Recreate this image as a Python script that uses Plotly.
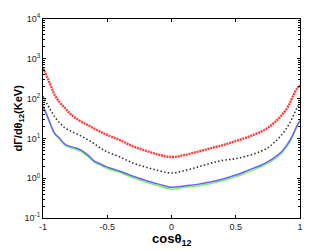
import plotly.graph_objects as go

cos12 = [-1, -0.97, -0.94, -0.91, -0.87, -0.83, -0.79, -0.75, -0.7, -0.65, -0.6, -0.55, -0.5,
         -0.4, -0.3, -0.2, -0.1, 0, 0.1, 0.2, 0.3, 0.4, 0.5, 0.6, 0.7, 0.75, 0.8, 0.85, 0.9,
         0.93, 0.96, 0.98, 1]

red_vals = [580, 360, 210, 125, 80, 58, 42, 33, 26, 21.5, 17.5, 14.5, 12.2,
            9.0, 6.3, 4.9, 3.9, 3.4, 3.8, 4.6, 5.6, 6.8, 8.6, 11, 15, 18.5, 25, 36, 58,
            90, 145, 185, 220]

black_vals = [115, 76, 51, 35, 24.6, 18.5, 15.5, 13.5, 11.3, 9.2, 7.3, 5.6, 4.6,
              3.4, 2.4, 1.9, 1.55, 1.35, 1.55, 1.9, 2.35, 2.8, 3.1, 3.7, 4.8, 5.8, 7.9, 11.5, 19,
              28, 45, 60, 75]

blue_vals = [65, 39, 22, 13.5, 10, 7.2, 6.3, 5.8, 5.0, 3.8, 2.7, 2.25, 1.9,
             1.5, 1.12, 0.88, 0.71, 0.59, 0.64, 0.70, 0.8, 0.95, 1.2, 1.6, 2.15, 2.6, 3.3, 4.4, 7,
             10, 16, 22, 28]

green_vals = [62, 37, 21, 13, 9.5, 6.8, 5.9, 5.4, 4.6, 3.5, 2.5, 2.1, 1.75,
              1.38, 1.02, 0.8, 0.64, 0.53, 0.59, 0.64, 0.73, 0.86, 1.08, 1.45, 1.95, 2.35, 3.0, 4.0, 6.4,
              9.2, 15, 21, 27]

x_ticks = [-1, -0.5, 0, 0.5, 1]
x_ticktext = ["-1", "-0.5", "0", "0.5", "1"]
y_ticks = [0.1, 1, 10, 100, 1000, 10000]
y_ticktext = ["10<sup>-1</sup>", "10<sup>0</sup>", "10<sup>1</sup>", "10<sup>2</sup>",
              "10<sup>3</sup>", "10<sup>4</sup>"]
x_title = "<b>cosθ<sub>12</sub></b>"
y_title = "<b>dΓ/dθ<sub>12</sub>(KeV)</b>"

fig = go.Figure()
fig.add_trace(go.Scatter(x=cos12, y=green_vals, mode="lines",
                         line=dict(color="#7cf06a", width=1.5, shape="spline")))
fig.add_trace(go.Scatter(x=cos12, y=blue_vals, mode="lines",
                         line=dict(color="#6b62f5", width=1.5, shape="spline")))
fig.add_trace(go.Scatter(x=cos12, y=black_vals, mode="lines",
                         line=dict(color="#333333", width=1.6, shape="spline", dash="1.5px,2.2px")))
fig.add_trace(go.Scatter(x=cos12, y=red_vals, mode="lines",
                         line=dict(color="#ff3c3c", width=2.4, shape="spline", dash="2px,0.8px")))

axis_common = dict(showline=True, linecolor="black", linewidth=1, mirror="allticks",
                   ticks="inside", ticklen=3, tickcolor="black", showgrid=False, zeroline=False,
                   automargin=False,
                   tickfont=dict(family="Liberation Sans, Arial", size=9, color="#222"))

fig.update_xaxes(range=[-1, 1], tickmode="array", tickvals=x_ticks, ticktext=x_ticktext,
                 **axis_common)
fig.update_yaxes(type="log", range=[-1, 4], tickmode="array", tickvals=y_ticks, ticktext=y_ticktext,
                 minor=dict(ticks="inside", ticklen=2, tickcolor="black", dtick="D1", showgrid=False),
                 **axis_common)

fig.add_annotation(text=x_title, xref="paper", yref="paper", x=0.5, y=0,
                   xanchor="center", yanchor="top", yshift=-11, showarrow=False,
                   font=dict(family="Liberation Sans, Arial", size=13, color="black"))
fig.add_annotation(text=y_title, xref="paper", yref="paper", x=0, y=0.5, textangle=-90,
                   xanchor="center", yanchor="middle", xshift=-25, showarrow=False,
                   font=dict(family="Liberation Sans, Arial", size=11, color="black"))

# page body has an 8px margin, so the figure is sized to fit the 332x250 window
fig.update_layout(width=324, height=242, margin=dict(l=35, r=32, t=11, b=32, autoexpand=False),
                  paper_bgcolor="white", plot_bgcolor="white", showlegend=False)

fig.write_html("out.html")
